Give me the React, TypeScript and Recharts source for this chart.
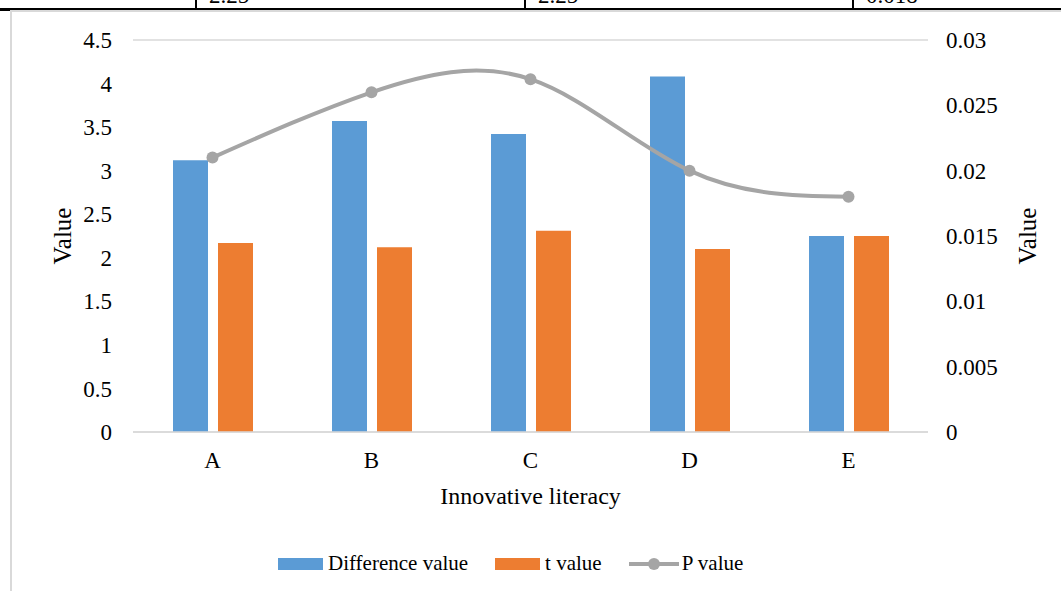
import { ComposedChart, Bar, Line, XAxis, YAxis, CartesianGrid, Legend, Label } from 'recharts';

const categories = ['A', 'B', 'C', 'D', 'E'];
const differenceValues = [3.12, 3.57, 3.42, 4.08, 2.25];
const tValues = [2.17, 2.12, 2.31, 2.1, 2.25];
const pValues = [0.021, 0.026, 0.027, 0.02, 0.018];
const leftTicks = [0, 0.5, 1, 1.5, 2, 2.5, 3, 3.5, 4, 4.5];
const rightTicks = [0, 0.005, 0.01, 0.015, 0.02, 0.025, 0.03];
const tableRemnants = ['2.25', '2.25', '0.018'];

const data = categories.map((name, i) => ({
    name,
    diff: differenceValues[i],
    t: tValues[i],
    p: pValues[i],
}));

const FONT = '"Liberation Serif", "Times New Roman", serif';
const BLUE = '#5B9BD5';
const ORANGE = '#ED7D31';
const GREY = '#A5A5A5';

const legendItems = [
    { label: 'Difference value', color: BLUE, kind: 'bar' },
    { label: 't value', color: ORANGE, kind: 'bar' },
    { label: 'P value', color: GREY, kind: 'line' },
];

function LegendContent() {
    return (
        <div style={{ display: 'flex', alignItems: 'center', marginLeft: 278, marginTop: 10, fontFamily: FONT, fontSize: 21, color: '#000' }}>
            {legendItems.map((it) => (
                <div key={it.label} style={{ display: 'flex', alignItems: 'center', marginRight: 27 }}>
                    {it.kind === 'bar' ? (
                        <span style={{ width: 45, height: 12, background: it.color, display: 'inline-block', marginRight: 5 }} />
                    ) : (
                        <svg width={50} height={14} style={{ marginRight: 3 }}>
                            <line x1={0} y1={7} x2={50} y2={7} stroke={it.color} strokeWidth={4} />
                            <circle cx={25} cy={7} r={6} fill={it.color} />
                        </svg>
                    )}
                    <span>{it.label}</span>
                </div>
            ))}
        </div>
    );
}

const fmt = (v: number) => String(parseFloat(v.toFixed(3)));

export default function App() {
    return (
        <div style={{ position: 'absolute', left: 0, top: 0, width: 1061, height: 591, background: '#fff', overflow: 'hidden' }}>
            {/* leftover table row from the page above */}
            <div style={{ position: 'absolute', left: 0, top: 8, width: 1061, height: 2, background: '#000' }} />
            {[195, 524, 852].map((x, i) => (
                <div key={x}>
                    <div style={{ position: 'absolute', left: x, top: 0, width: 2, height: 9, background: '#000' }} />
                    <div style={{ position: 'absolute', left: x + 14, top: -17, fontFamily: FONT, fontSize: 23, color: '#000', lineHeight: '26px' }}>
                        {tableRemnants[i]}
                    </div>
                </div>
            ))}
            <div style={{ position: 'absolute', left: 0, top: 10, width: 10, height: 1, background: '#000' }} />
            <div style={{ position: 'absolute', left: 10, top: 10, width: 1051, height: 2, background: '#d9d9d9' }} />
            <div style={{ position: 'absolute', left: 10, top: 10, width: 2, height: 581, background: '#d9d9d9' }} />
            <div style={{ position: 'absolute', left: 0, top: 0 }}>
                <ComposedChart
                    width={1061}
                    height={591}
                    data={data}
                    margin={{ top: 40, right: 0, bottom: 0, left: 0 }}
                    barSize={35}
                    barGap={10}
                    style={{ fontFamily: FONT }}
                >
                    <CartesianGrid vertical={false} stroke="#d9d9d9" strokeWidth={1.5} />
                    <XAxis
                        dataKey="name"
                        height={109}
                        tickLine={false}
                        tickSize={0}
                        tickMargin={20}
                        axisLine={{ stroke: '#d9d9d9', strokeWidth: 1.5 }}
                        tick={{ fill: '#000', fontSize: 23, fontFamily: FONT }}
                    >
                        <Label
                            content={({ viewBox }: any) => (
                                <text x={viewBox.x + viewBox.width / 2} y={viewBox.y + 72} textAnchor="middle" fontSize={24} fontFamily={FONT} fill="#000">
                                    Innovative literacy
                                </text>
                            )}
                        />
                    </XAxis>
                    <YAxis
                        yAxisId="left"
                        width={133}
                        domain={[0, 4.5]}
                        ticks={leftTicks}
                        interval={0}
                        axisLine={false}
                        tickLine={false}
                        tickSize={0}
                        tickMargin={21}
                        tick={{ fill: '#000', fontSize: 23, fontFamily: FONT }}
                    >
                        <Label
                            content={({ viewBox }: any) => {
                                const cx = 62;
                                const cy = viewBox.y + viewBox.height / 2;
                                return (
                                    <text x={cx} y={cy} transform={`rotate(-90 ${cx} ${cy})`} textAnchor="middle" dominantBaseline="central" fontSize={25} fontFamily={FONT} fill="#000">
                                        Value
                                    </text>
                                );
                            }}
                        />
                    </YAxis>
                    <YAxis
                        yAxisId="right"
                        orientation="right"
                        width={133}
                        domain={[0, 0.03]}
                        ticks={rightTicks}
                        interval={0}
                        tickFormatter={fmt}
                        axisLine={false}
                        tickLine={false}
                        tickSize={0}
                        tickMargin={18}
                        tick={{ fill: '#000', fontSize: 23, fontFamily: FONT }}
                    >
                        <Label
                            content={({ viewBox }: any) => {
                                const cx = 1027;
                                const cy = viewBox.y + viewBox.height / 2;
                                return (
                                    <text x={cx} y={cy} transform={`rotate(-90 ${cx} ${cy})`} textAnchor="middle" dominantBaseline="central" fontSize={25} fontFamily={FONT} fill="#000">
                                        Value
                                    </text>
                                );
                            }}
                        />
                    </YAxis>
                    <Legend verticalAlign="bottom" height={50} content={<LegendContent />} />
                    <Bar yAxisId="left" dataKey="diff" name="Difference value" fill={BLUE} isAnimationActive={false} />
                    <Bar yAxisId="left" dataKey="t" name="t value" fill={ORANGE} isAnimationActive={false} />
                    <Line
                        yAxisId="right"
                        type="natural"
                        dataKey="p"
                        name="P value"
                        stroke={GREY}
                        strokeWidth={4}
                        dot={{ r: 6, fill: GREY, stroke: GREY, strokeWidth: 0 }}
                        isAnimationActive={false}
                    />
                </ComposedChart>
            </div>
        </div>
    );
}
